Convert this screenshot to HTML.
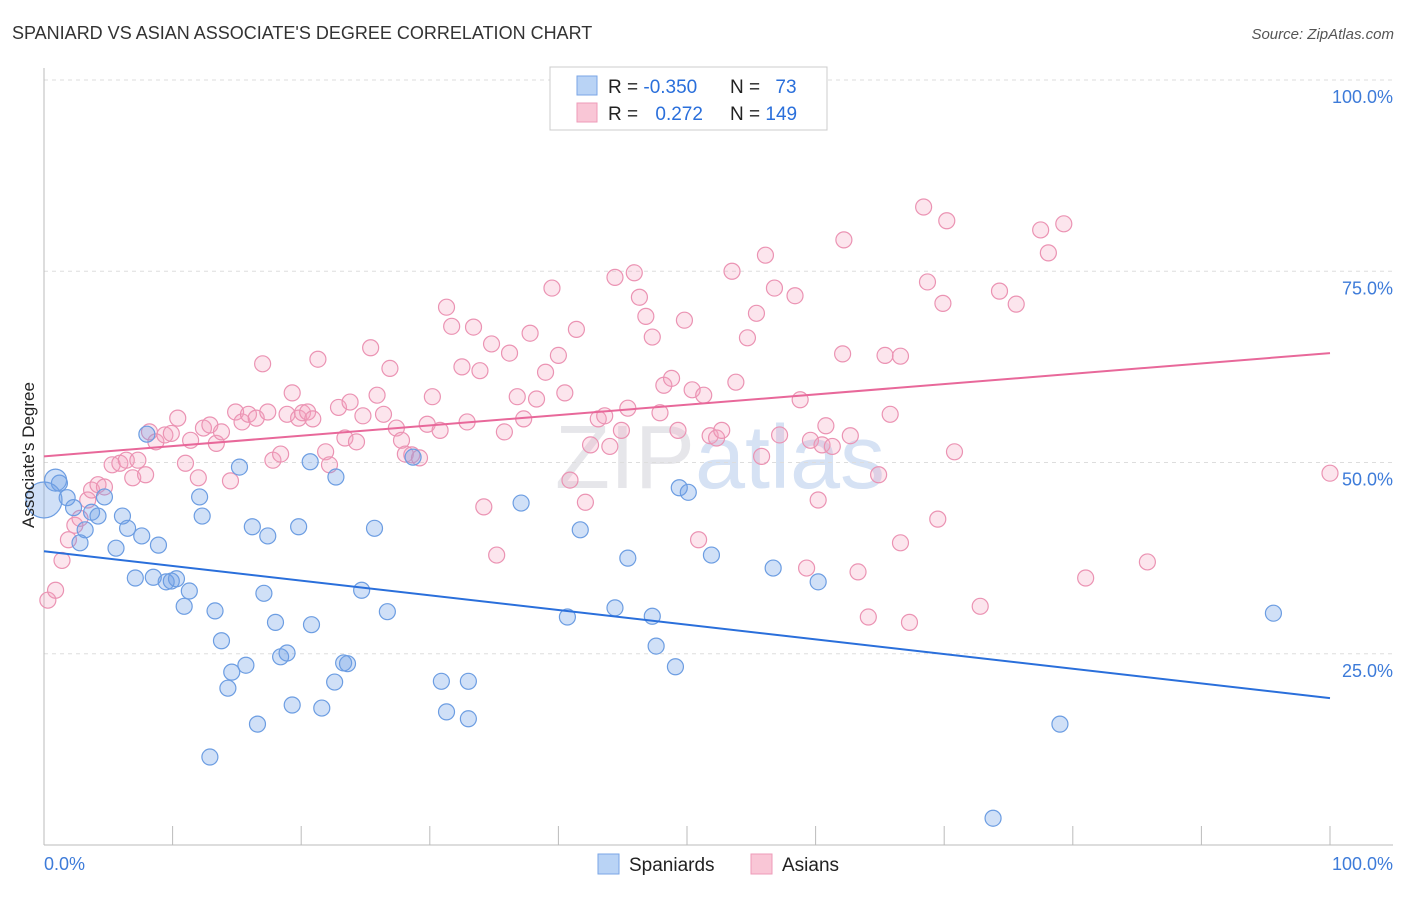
<!DOCTYPE html>
<html><head><meta charset="utf-8"><style>
body{margin:0;background:#fff;font-family:"Liberation Sans",sans-serif;}
svg text{font-family:"Liberation Sans",sans-serif;}
</style></head><body>
<svg id="chart" width="1406" height="892">
<text x="12" y="39" font-size="18" fill="#333">SPANIARD VS ASIAN ASSOCIATE'S DEGREE CORRELATION CHART</text>
<text x="1394" y="39" font-size="15" fill="#555" font-style="italic" text-anchor="end">Source: ZipAtlas.com</text>
<text x="720" y="488" font-size="90" fill="#e6e6ea" text-anchor="middle" font-family="Liberation Serif">ZIP<tspan fill="#d6e2f4" font-family="Liberation Sans">atlas</tspan></text>
<g id="grid"></g><g id="axes"></g><g id="marks"></g>
<text transform="translate(34,455) rotate(-90)" font-size="17" fill="#222" text-anchor="middle">Associate's Degree</text>
<g>
<rect x="550" y="67" width="277" height="63" fill="#fff" stroke="#ccc"/>
<rect x="577" y="76" width="20" height="19" fill="#b9d3f5" stroke="#7aa6e6"/>
<rect x="577" y="103" width="20" height="19" fill="#f9c6d6" stroke="#ee9bb8"/>
<text x="608" y="93" font-size="19" fill="#222">R = <tspan fill="#2a6fdb">-0.350</tspan></text>
<text x="730" y="93" font-size="19" fill="#222">N = <tspan fill="#2a6fdb" dx="10">73</tspan></text>
<text x="608" y="120" font-size="19" fill="#222">R = <tspan fill="#2a6fdb" dx="12">0.272</tspan></text>
<text x="730" y="120" font-size="19" fill="#222">N = <tspan fill="#2a6fdb">149</tspan></text>
</g>
<g>
<rect x="598" y="854" width="21" height="20" fill="#b9d3f5" stroke="#7aa6e6"/>
<text x="629" y="871" font-size="19" fill="#222">Spaniards</text>
<rect x="751" y="854" width="21" height="20" fill="#f9c6d6" stroke="#ee9bb8"/>
<text x="782" y="871" font-size="19" fill="#222">Asians</text>
</g>
</svg>
<script>
const yTicks=[25,50,75,100];
const yTickLabels=["25.0%","50.0%","75.0%","100.0%"];
const xTicks=[0,10,20,30,40,50,60,70,80,90,100];
const blueX=[0.9,1.2,1.8,2.3,3.2,2.8,3.7,4.2,4.7,5.6,6.1,6.5,7.6,8.0,7.1,8.5,8.9,9.5,9.9,10.3,10.9,11.3,12.1,12.3,13.3,13.8,14.6,14.3,15.2,15.7,16.2,16.6,17.4,17.1,18.0,18.4,18.9,19.3,19.8,20.8,20.7,21.6,22.6,22.7,23.3,23.6,24.7,25.7,26.7,28.7,30.9,31.3,33.0,33.0,37.1,40.7,41.7,44.4,45.4,47.3,47.6,49.1,49.4,50.1,51.9,56.7,60.2,79.0,73.8,95.6,12.9,0];
const blueY=[47.7,47.3,45.4,44.1,41.2,39.5,43.5,43.0,45.5,38.8,43.0,41.4,40.4,53.7,34.9,35.0,39.2,34.4,34.5,34.8,31.2,33.2,45.5,43.0,30.6,26.7,22.6,20.5,49.4,23.5,41.6,15.8,40.4,32.9,29.1,24.6,25.1,18.3,41.6,28.8,50.1,17.9,21.3,48.1,23.8,23.7,33.3,41.4,30.5,50.7,21.4,17.4,21.4,16.5,44.7,29.8,41.2,31.0,37.5,29.9,26.0,23.3,46.7,46.1,37.9,36.2,34.4,15.8,3.5,30.3,11.5,45.1];
const blueSize=[11,8,8,8,8,8,8,8,8,8,8,8,8,8,8,8,8,8,8,8,8,8,8,8,8,8,8,8,8,8,8,8,8,8,8,8,8,8,8,8,8,8,8,8,8,8,8,8,8,8,8,8,8,8,8,8,8,8,8,8,8,8,8,8,8,8,8,8,8,8,8,18];
const pinkX=[0.3,0.9,1.4,1.9,2.4,2.8,3.4,3.7,4.2,4.7,5.3,5.9,6.4,6.9,7.3,7.9,8.2,8.7,9.4,9.9,10.4,11.0,11.4,12.0,12.4,12.9,13.4,13.8,14.5,14.9,15.4,15.9,16.5,17.0,17.4,17.8,18.4,18.9,19.3,19.8,20.1,20.5,20.9,21.3,21.9,22.2,22.9,23.4,23.8,24.3,24.8,25.4,25.9,26.4,26.9,27.4,27.8,28.1,28.6,29.2,29.8,30.2,30.8,31.3,31.7,32.5,32.9,33.4,33.9,34.2,34.8,35.2,35.8,36.2,36.8,37.3,37.8,38.3,39.0,39.5,40.0,40.5,40.9,41.4,42.1,42.5,43.1,43.6,44.0,44.4,44.9,45.4,45.9,46.3,46.8,47.3,47.9,48.2,48.8,49.3,49.8,50.4,50.9,51.3,51.8,52.3,52.7,53.5,53.8,54.7,55.4,55.8,56.1,56.8,57.2,58.4,58.8,59.3,59.6,60.2,60.5,60.8,61.3,62.1,62.2,62.7,63.3,64.1,64.9,65.4,65.8,66.6,66.6,67.3,68.4,68.7,69.5,69.9,70.2,70.8,72.8,74.3,75.6,77.5,78.1,79.3,81.0,85.8,100.0];
const pinkY=[32.0,33.3,37.2,39.9,41.8,42.7,45.1,46.4,47.1,46.8,49.7,49.9,50.3,48.0,50.3,48.4,54.0,52.7,53.6,53.8,55.8,49.9,52.9,48.0,54.5,54.9,52.5,54.0,47.6,56.6,55.3,56.3,55.8,62.9,56.6,50.3,51.1,56.3,59.1,55.8,56.5,56.6,55.7,63.5,51.4,49.7,57.2,53.2,57.9,52.7,56.1,65.0,58.8,56.3,62.3,54.5,52.9,51.1,51.0,50.6,55.0,58.6,54.2,70.3,67.8,62.5,55.3,67.7,62.0,44.2,65.5,37.9,54.0,64.3,58.6,55.7,66.9,58.3,61.8,72.8,64.0,59.1,47.7,67.4,44.8,52.3,55.7,56.1,52.1,74.2,54.2,57.1,74.8,71.6,69.1,66.4,56.5,60.1,61.0,54.2,68.6,59.5,39.9,58.8,53.5,53.2,54.2,75.0,60.5,66.3,69.5,50.8,77.1,72.8,53.6,71.8,58.2,36.2,52.9,45.1,52.3,54.8,52.1,64.2,79.1,53.5,35.7,29.8,48.4,64.0,56.3,63.9,39.5,29.1,83.4,73.6,42.6,70.8,81.6,51.4,31.2,72.4,70.7,80.4,77.4,81.2,34.9,37.0,48.6];
const blueTrend=[38.4,19.2];
const pinkTrend=[50.8,64.3];
const NS="http://www.w3.org/2000/svg";
function xs(v){return 44+v*12.86;}
function ys(v){return 845-v*7.65;}
function mk(tag,attrs,parent){const e=document.createElementNS(NS,tag);for(const k in attrs)e.setAttribute(k,attrs[k]);parent.appendChild(e);return e;}
const grid=document.getElementById('grid'),axes=document.getElementById('axes'),marks=document.getElementById('marks');
yTicks.forEach((t,i)=>{
 const l=mk('line',{x1:44,x2:1393,y1:ys(t),y2:ys(t),stroke:'#ddd','stroke-dasharray':'4,4'},grid);
 
 
 const tx=mk('text',{x:1393,y:ys(t)+23,'font-size':18,fill:'#3d7bd9','text-anchor':'end'},axes);
 tx.textContent=yTickLabels[i];
 
 
});
const ax=mk('line',{x1:44,x2:1393,y1:845,y2:845,stroke:'#bbb'},axes);


const ay=mk('line',{x1:44,x2:44,y1:68,y2:845,stroke:'#bbb'},axes);


xTicks.forEach(t=>{
 const l=mk('line',{x1:xs(t),x2:xs(t),y1:826,y2:845,stroke:'#bbb'},axes);
 
 
});
const xl0=mk('text',{x:44,y:870,'font-size':18,fill:'#3d7bd9'},axes);xl0.textContent='0.0%';


const xl1=mk('text',{x:1393,y:870,'font-size':18,fill:'#3d7bd9','text-anchor':'end'},axes);xl1.textContent='100.0%';


pinkX.forEach((x,i)=>{
 const c=mk('circle',{cx:xs(x),cy:ys(pinkY[i]),r:8,fill:'rgba(244,160,190,0.28)',stroke:'#eb93b3','stroke-width':1.2},marks);
 
 
});
blueX.forEach((x,i)=>{
 const c=mk('circle',{cx:xs(x),cy:ys(blueY[i]),r:blueSize[i],fill:'rgba(110,160,230,0.32)',stroke:'#6c9de2','stroke-width':1.2},marks);
 
 
});
const bl=mk('line',{x1:xs(0),y1:ys(blueTrend[0]),x2:xs(100),y2:ys(blueTrend[1]),stroke:'#2a6fdb','stroke-width':2},marks);


const pl=mk('line',{x1:xs(0),y1:ys(pinkTrend[0]),x2:xs(100),y2:ys(pinkTrend[1]),stroke:'#e8689a','stroke-width':2},marks);


</script>
</body></html>
